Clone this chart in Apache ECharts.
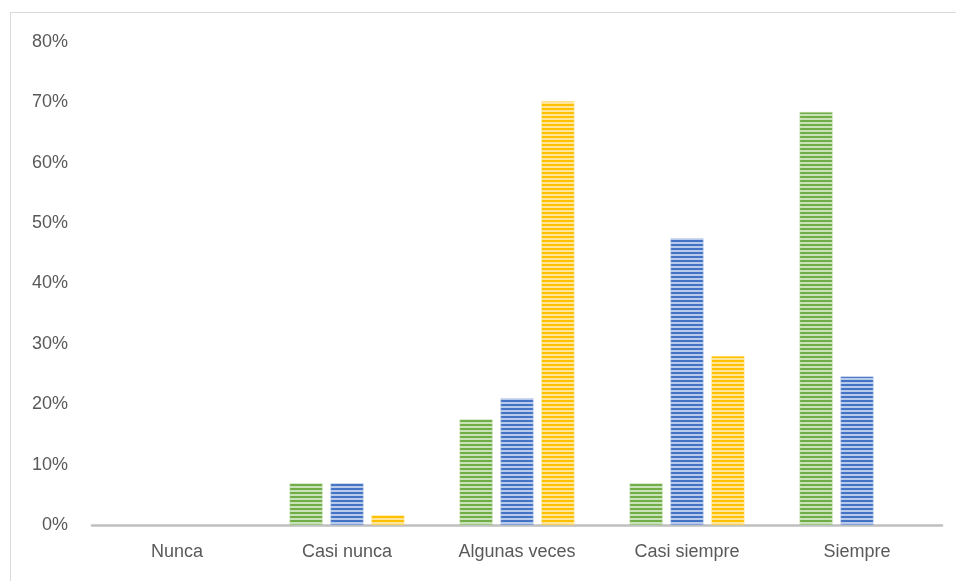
<!DOCTYPE html>
<html>
<head>
<meta charset="utf-8">
<script src="https://cdn.jsdelivr.net/npm/echarts@6/dist/echarts.min.js"></script>
<style>
html,body{margin:0;padding:0;background:#fff;}
#frame{position:absolute;left:10px;top:12px;width:960px;height:600px;border:1px solid #d9d9d9;box-sizing:border-box;}
#main{position:absolute;left:0;top:0;width:956px;height:581px;}
</style>
</head>
<body>
<div id="frame"></div>
<div id="main"></div>
<script>
// categorias y valores (%)
var categorias = ['Nunca', 'Casi nunca', 'Algunas veces', 'Casi siempre', 'Siempre'];
var serieVerde = [0, 6.9, 17.5, 6.9, 68.4];
var serieAzul = [0, 6.9, 21.0, 47.5, 24.6];
var serieAmarilla = [0, 1.6, 70.2, 28.0, 0];
var ticksY = ['0%', '10%', '20%', '30%', '40%', '50%', '60%', '70%', '80%'];

// rayas horizontales
function rayas(oscuro, claro){
	var c = document.createElement('canvas');
	c.width = 4; c.height = 4;
	var ctx = c.getContext('2d');
	ctx.fillStyle = claro;
	ctx.fillRect(0, 0, 4, 4);
	ctx.fillStyle = oscuro;
	ctx.fillRect(0, 0, 4, 2);
	return {image: c, repeat: 'repeat'};
}

function serie(nombre, datos, oscuro, claro){
	return {
		name: nombre,
		type: 'bar',
		data: datos.map(function(v){
			// sin borde para los ceros
			return {value: v, itemStyle: {borderWidth: v > 0 ? 0.5 : 0}};
		}),
		barWidth: 33,
		barGap: '24%',
		itemStyle: {color: rayas(oscuro, claro), borderColor: claro}
	};
}

var myChart = echarts.init(document.getElementById('main'));
myChart.setOption({
	animation: false,
	grid: {left: 92, right: 14, top: 42, bottom: 56},
	xAxis: {
		type: 'category',
		data: categorias,
		axisLine: {lineStyle: {color: '#bfbfbf', width: 2.5}},
		axisTick: {show: false},
		axisLabel: {color: '#595959', fontSize: 18, fontFamily: 'Liberation Sans', margin: 18}
	},
	yAxis: {
		type: 'value',
		min: 0, max: 80, interval: 10,
		splitLine: {show: false},
		axisLine: {show: false},
		axisLabel: {
			color: '#595959', fontSize: 18, fontFamily: 'Liberation Sans', margin: 24,
			formatter: function(v){ return ticksY[Math.round(v / 10)]; }
		}
	},
	series: [
		serie('Verde', serieVerde, '#70ad47', '#c9e2b8'),
		serie('Azul', serieAzul, '#4472c4', '#b9cbea'),
		serie('Amarilla', serieAmarilla, '#ffc000', '#ffe69a')
	]
});
</script>
</body>
</html>
